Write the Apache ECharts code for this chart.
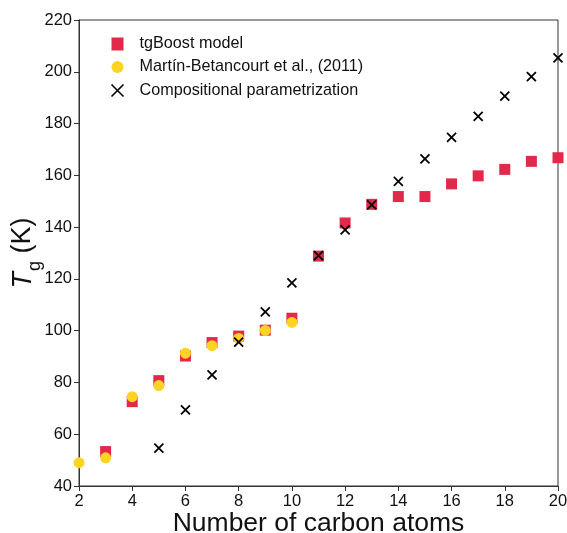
<!DOCTYPE html>
<html><head><meta charset="utf-8">
<script src="https://cdn.jsdelivr.net/npm/echarts@6/dist/echarts.min.js"></script>
<style>html,body{margin:0;padding:0;background:#fff}#c{width:567px;height:533px}</style>
</head><body><div id="c"></div>
<script>
var carbonAtoms = [2,3,4,5,6,7,8,9,10,11,12,13,14,15,16,17,18,19,20];
var tgBoostX = [3,4,5,6,7,8,9,10,11,12,13,14,15,16,17,18,19,20];
var tgBoostY = [53.3,72.6,80.7,90.2,95.4,97.9,100.2,104.8,128.8,141.6,148.8,151.8,151.8,156.7,159.8,162.3,165.4,166.8];
var martinX = [2,3,4,5,6,7,8,9,10];
var martinY = [49.0,50.9,74.5,78.8,91.3,94.2,97.0,100.1,103.2];
var compX = [5,6,7,8,9,10,11,12,13,14,15,16,17,18,19,20];
var compY = [54.6,69.4,82.9,95.6,107.3,118.5,129.0,138.9,148.6,157.7,166.4,174.7,182.8,190.6,198.1,205.4];
var xTicks = {min:2, max:20, interval:2};
var yTicks = {min:40, max:220, interval:20};
var seriesNames = ['tgBoost model','Martín-Betancourt et al., (2011)','Compositional parametrization'];

function pairs(xs, ys){ return xs.map(function(x,i){return [x, ys[i]];}); }
var FONT = '"Liberation Sans", Arial, sans-serif';
var crossPath = 'path://M0,0L10,10M10,0L0,10';

var chart = echarts.init(document.getElementById('c'), null, {renderer:'canvas'});
chart.setOption({
  animation:false,
  backgroundColor:'#fff',
  grid:{left:79, right:9, top:20, bottom:47, show:true, borderColor:'#333', borderWidth:1,
    backgroundColor:'transparent', containLabel:false, outerBoundsMode:'none'},
  legend:{
    orient:'vertical', left:104, top:31, itemGap:7, itemWidth:12, itemHeight:13,
    textStyle:{fontFamily:FONT, fontSize:16.2, color:'#111', padding:[0,0,0,11]},
    data:[
      {name:seriesNames[0], icon:'rect', itemStyle:{color:'#e2284b'}},
      {name:seriesNames[1], icon:'circle', itemStyle:{color:'#fdd424'}},
      {name:seriesNames[2], icon:crossPath, itemStyle:{color:'none', borderColor:'#000', borderWidth:1.6}}
    ]
  },
  xAxis:{
    type:'value', min:xTicks.min, max:xTicks.max, interval:xTicks.interval,
    name:'Number of carbon atoms', nameLocation:'middle', nameGap:24, nameMoveOverlap:false,
    nameTextStyle:{fontFamily:FONT, fontSize:26.5, color:'#111'},
    axisLine:{show:true, onZero:false, lineStyle:{color:'#333', width:1}},
    axisTick:{show:true, length:5, lineStyle:{color:'#333'}},
    axisLabel:{fontFamily:FONT, fontSize:16.5, color:'#111', margin:7},
    splitLine:{show:false}
  },
  yAxis:{
    type:'value', min:yTicks.min, max:yTicks.max, interval:yTicks.interval,
    name:'{t|T}{s|g}{n| (K)}', nameLocation:'middle', nameGap:35, nameRotate:90, nameMoveOverlap:false,
    nameTextStyle:{fontFamily:FONT, fontSize:27, color:'#111',
      rich:{
        t:{fontFamily:FONT, fontSize:27, fontStyle:'italic', color:'#111'},
        s:{fontFamily:FONT, fontSize:18, color:'#111', padding:[24,0,0,1]},
        n:{fontFamily:FONT, fontSize:27, color:'#111'}
      }},
    axisLine:{show:true, onZero:false, lineStyle:{color:'#333', width:1}},
    axisTick:{show:true, length:5, lineStyle:{color:'#333'}},
    axisLabel:{fontFamily:FONT, fontSize:16.5, color:'#111', margin:7},
    splitLine:{show:false}
  },
  series:[
    {name:seriesNames[0], type:'scatter', symbol:'rect', symbolSize:11, data:pairs(tgBoostX,tgBoostY),
      itemStyle:{color:'#e2284b', opacity:1}, z:2},
    {name:seriesNames[1], type:'scatter', symbol:'circle', symbolSize:11, data:pairs(martinX,martinY),
      itemStyle:{color:'#fdd424', opacity:1}, z:3},
    {name:seriesNames[2], type:'scatter', symbol:crossPath, symbolSize:9, data:pairs(compX,compY),
      itemStyle:{color:'none', borderColor:'#000', borderWidth:1.8, opacity:1}, z:4}
  ]
});
</script></body></html>
